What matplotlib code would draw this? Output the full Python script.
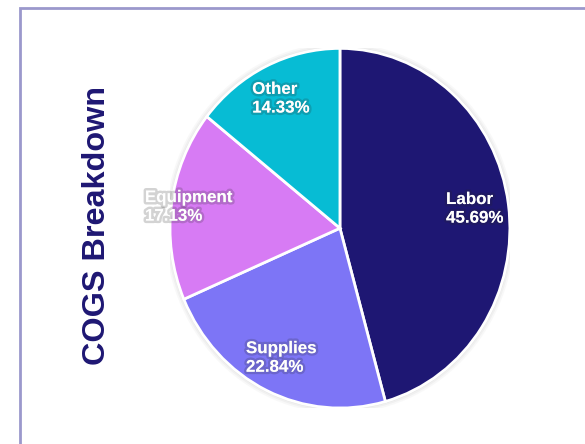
import matplotlib
matplotlib.use("Agg")
import matplotlib.pyplot as plt
import matplotlib.patheffects as pe
from matplotlib.patches import Rectangle, Ellipse
import numpy as np

categories = ["Labor", "Supplies", "Equipment", "Other"]
values = [45.69, 22.84, 17.13, 14.33]
colors = ["#1e1773", "#7d75f6", "#d77bf4", "#07bcd4"]
title = "COGS Breakdown"

plt.rcParams['font.family'] = ['Liberation Sans', 'DejaVu Sans']

fig = plt.figure(figsize=(5.85, 4.44), dpi=100)
fig.patches.append(Rectangle((0.034, -0.2), 1.2, 1.182, transform=fig.transFigure,
                             fill=False, edgecolor="#9b98cc", linewidth=2, zorder=0))

ax = fig.add_axes([0.2906, 0.081, 0.581, 0.81])
# soft shadow
for s, a in [(1.03, 0.05), (1.02, 0.07), (1.01, 0.1)]:
    ax.add_patch(Ellipse((0, 0), 2 * s, 2 * s, facecolor="#888888", alpha=a,
                         edgecolor="none", zorder=0))
wedges, _ = ax.pie(values, colors=colors, startangle=90, counterclock=False,
                   radius=1, wedgeprops=dict(edgecolor="white", linewidth=2))
ax.set_aspect('auto')
ax.set_xlim(-1.0, 1.0)
ax.set_ylim(-1.0, 1.0)

radii = {"Equipment": 0.9}
for w, cat, v in zip(wedges, categories, values):
    ang = np.deg2rad((w.theta1 + w.theta2) / 2)
    r = radii.get(cat, 0.8)
    x, y = r * np.cos(ang), r * np.sin(ang)
    ax.text(x, y, f"{cat}\n{v:.2f}%", ha="center", va="center",
            multialignment="left", color="white", fontsize=12.2, fontweight="bold",
            linespacing=1.3,
            path_effects=[pe.withStroke(linewidth=3.5, foreground=(0.15, 0.15, 0.15, 0.2))])

fig.text(0.165, 0.491, title, rotation=90, ha="center", va="center",
         color="#1e1773", fontsize=23.3, fontweight="bold")

fig.savefig("out.png", dpi=100)
